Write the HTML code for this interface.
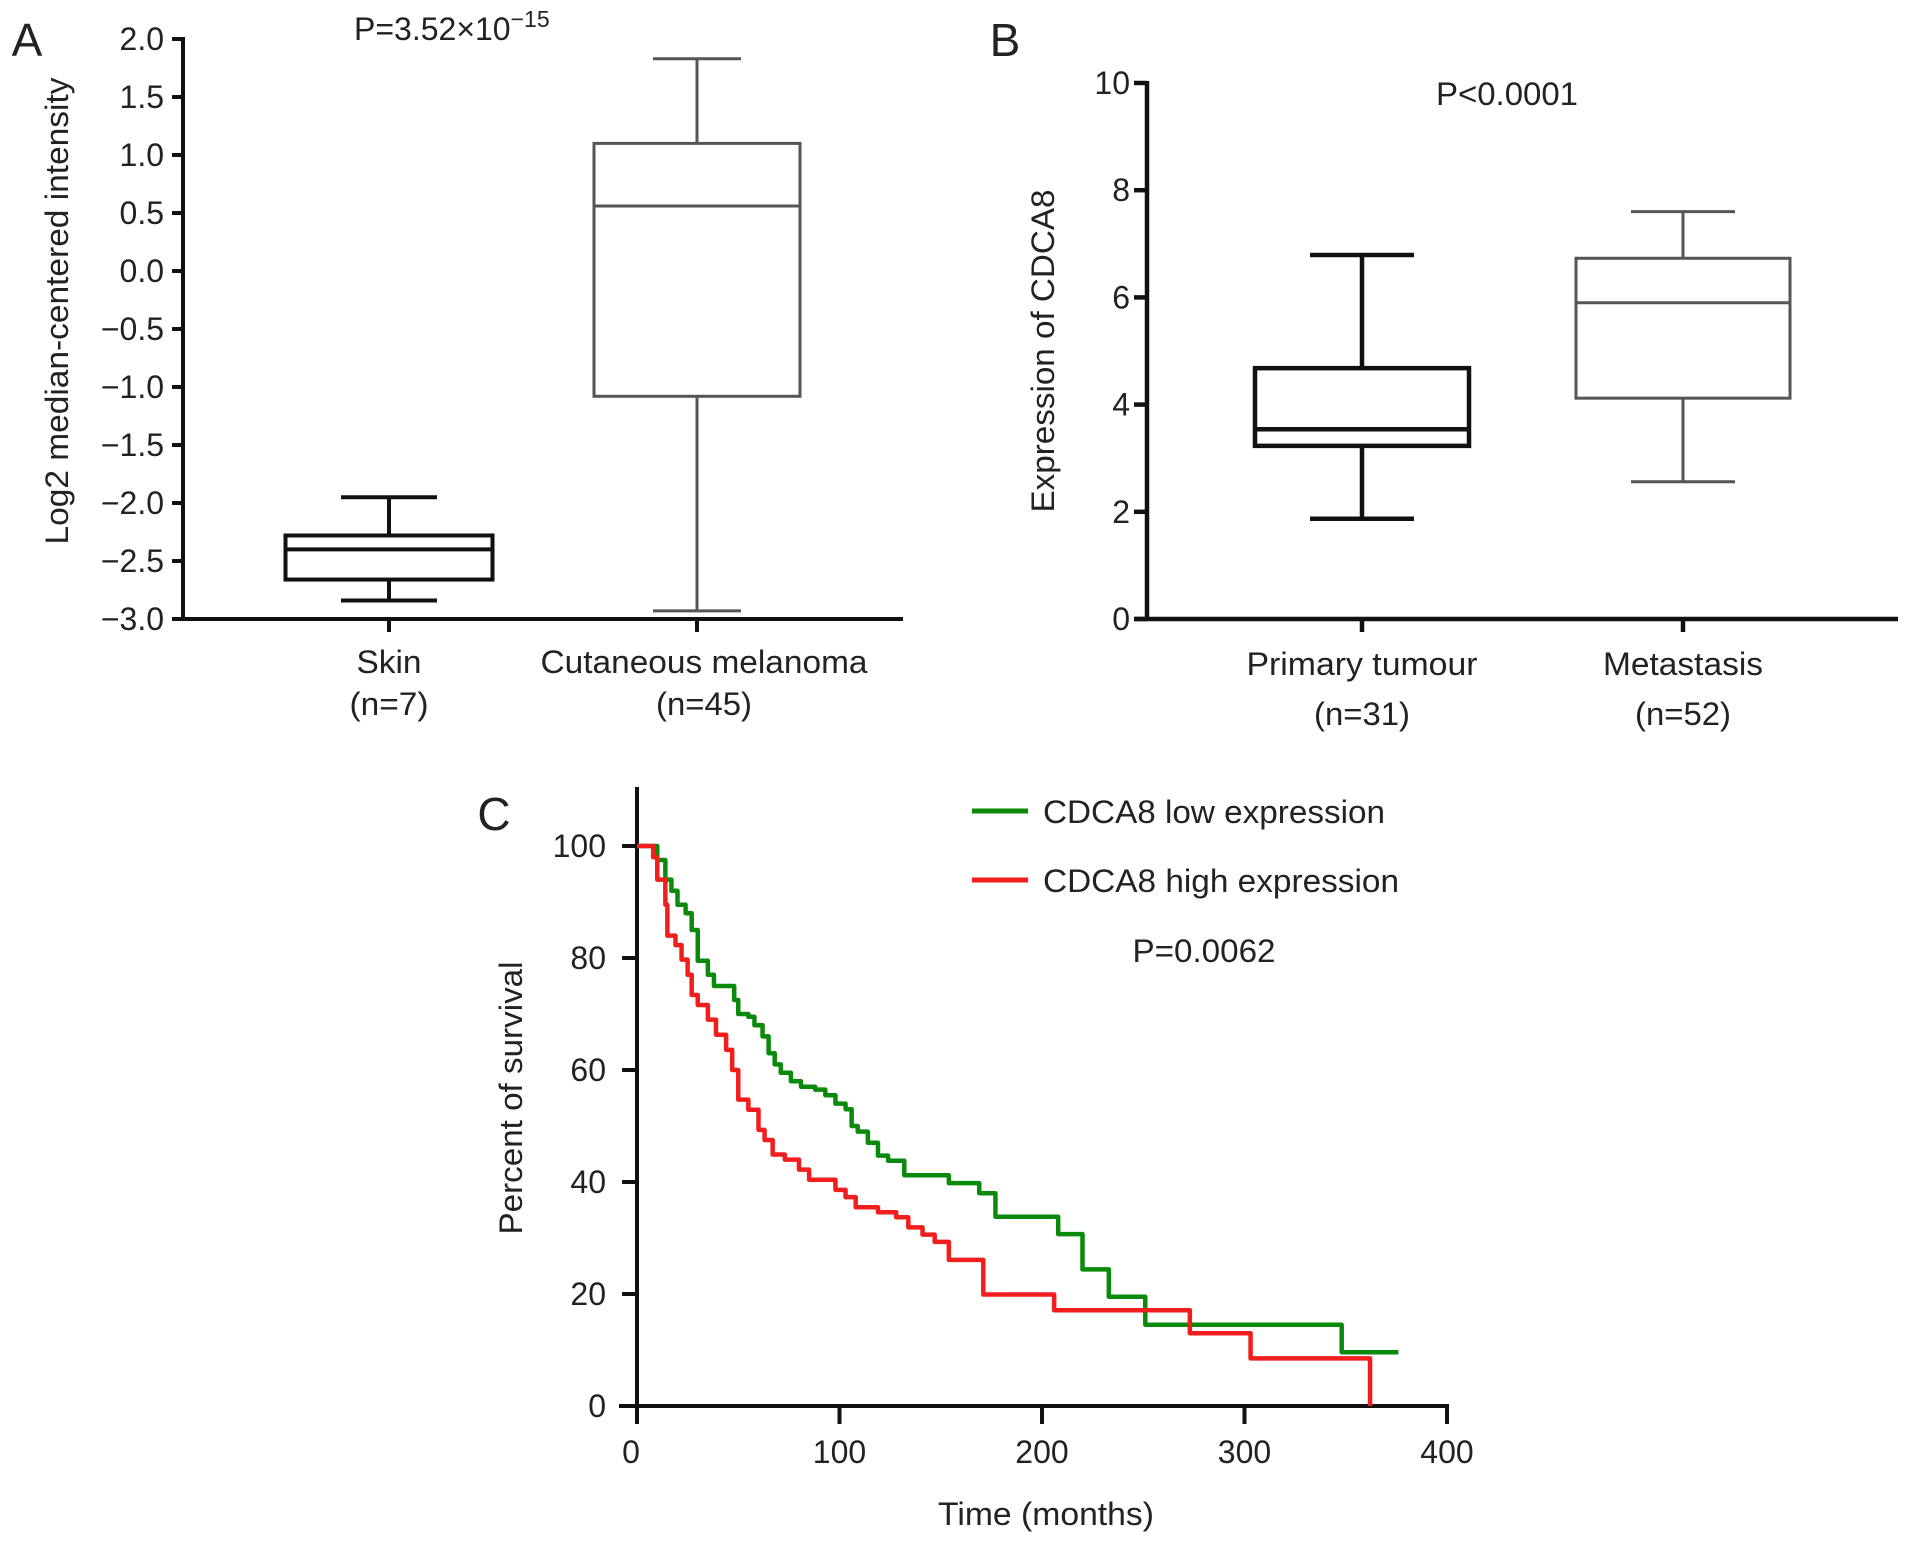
<!DOCTYPE html>
<html><head><meta charset="utf-8">
<style>
html,body{margin:0;padding:0;background:#fff;}
svg{display:block;font-family:"Liberation Sans",Arial,sans-serif;}
text{fill:#222;}
</style></head>
<body>
<svg id="fig" width="1913" height="1544" viewBox="0 0 1913 1544" xmlns="http://www.w3.org/2000/svg">
<g id="panelA"></g>
<g id="panelB"></g>
<g id="panelC"></g>
</svg>
<script>
// ---- Panel A data ----
const aCategories = ["Skin", "Cutaneous melanoma"];
const aCounts = ["(n=7)", "(n=45)"];
const aWhiskerHigh = [-1.95, 1.83];
const aQ3 = [-2.28, 1.10];
const aMedian = [-2.40, 0.56];
const aQ1 = [-2.66, -1.08];
const aWhiskerLow = [-2.84, -2.93];
const aTicks = [2.0, 1.5, 1.0, 0.5, 0.0, -0.5, -1.0, -1.5, -2.0, -2.5, -3.0];

// ---- Panel B data ----
const bCategories = ["Primary tumour", "Metastasis"];
const bCounts = ["(n=31)", "(n=52)"];
const bWhiskerHigh = [6.79, 7.6];
const bQ3 = [4.68, 6.73];
const bMedian = [3.54, 5.9];
const bQ1 = [3.23, 4.12];
const bWhiskerLow = [1.87, 2.56];
const bTicks = [0, 2, 4, 6, 8, 10];

// ---- Panel C data ----
const lowTimes = [0,7,10,14,17,20,24,27,30,35,38,45,48,50,55,58,62,65,68,71,76,81,88,93,98,103,106,109,114,119,124,132,152,154,164,169,175,177,207,208,218,220,232,233,250,251,346,348,376];
const lowSurv  = [100,100,97.5,94,92,89.5,88,85,79.5,77,75,75,72.5,70,69.5,68,66,63,61,59.5,58,57,56.5,55.5,54,53,50,49,47,44.7,43.8,41.2,41.2,39.8,39.8,38,38,33.8,33.8,30.7,30.7,24.4,24.4,19.5,19.5,14.5,14.5,9.6,9.6];
const highTimes = [0,8,10,14,15,19,22,25,27,30,35,39,44,47,50,55,60,63,67,73,80,85,93,98,103,108,119,128,134,141,147,154,169,171,205,206,272,273,302,303,362,362];
const highSurv  = [100,98,94,89.5,84,82.3,79.7,77,73.4,71.6,69,66.3,63.6,60,54.7,52.9,49.3,47.5,44.9,44,42.2,40.4,40.4,38.6,37.3,35.5,34.6,33.7,31.9,30.6,29.3,26.1,26.1,19.9,19.9,17.1,17.1,13,13,8.5,8.5,0];
const cXTicks = [0, 100, 200, 300, 400];
const cYTicks = [0, 20, 40, 60, 80, 100];

const NS = "http://www.w3.org/2000/svg";
function mk(parent, tag, attrs, txt){
  const e = document.createElementNS(NS, tag);
  for (const k in attrs) e.setAttribute(k, attrs[k]);
  if (txt !== undefined) e.textContent = txt;
  parent.appendChild(e);
  return e;
}
const FS = 32;

// ================= Panel A =================
(function(){
  const g = document.getElementById('panelA');
  const x0 = 183, yTop = 39, yBot = 619, vMax = 2, vMin = -3;
  const ay = v => yTop + (vMax - v) / (vMax - vMin) * (yBot - yTop);
  const centers = [389, 697];
  const halfW = [103.5, 103];
  const capHalf = [48, 44];
  const colors = ["#111", "#555"];
  const sw = [4, 3];
  let t = mk(g,'text',{x:27,y:56,'font-size':46,'text-anchor':'middle'},'A');
   
  const p = mk(g,'text',{x:354,y:40,'font-size':FS});
   
  mk(p,'tspan',{},'P=3.52×10');
  mk(p,'tspan',{dy:-13,'font-size':23},'−15');
  const yl = mk(g,'text',{x:0,y:0,'font-size':FS,'text-anchor':'middle',transform:'translate(68,311) rotate(-90)',textLength:467,lengthAdjust:'spacingAndGlyphs'},'Log2 median-centered intensity');
   
  const ax = mk(g,'line',{x1:x0,y1:yTop-2,x2:x0,y2:yBot+2,stroke:'#111','stroke-width':4});
   
  const xa = mk(g,'line',{x1:x0-2,y1:yBot,x2:903,y2:yBot,stroke:'#111','stroke-width':4});
   
  aTicks.forEach(v=>{
    const y = ay(v);
    const tk = mk(g,'line',{x1:172,y1:y,x2:x0,y2:y,stroke:'#111','stroke-width':4});
     
    const lb = mk(g,'text',{x:164,y:y+11,'font-size':FS,'text-anchor':'end'},(v<0?'−':'')+Math.abs(v).toFixed(1));
     
  });
  const lblW = [65, 327], cntW = [79, 96];
  aCategories.forEach((c,i)=>{
    const cx = centers[i];
    const tk = mk(g,'line',{x1:cx,y1:yBot,x2:cx,y2:yBot+13,stroke:'#111','stroke-width':4});
     
    const l1 = mk(g,'text',{x:cx+(i?7:0),y:673,'font-size':FS,'text-anchor':'middle',textLength:lblW[i],lengthAdjust:'spacingAndGlyphs'},c);
     
    const l2 = mk(g,'text',{x:cx+(i?7:0),y:715,'font-size':FS,'text-anchor':'middle',textLength:cntW[i],lengthAdjust:'spacingAndGlyphs'},aCounts[i]);
     
    const bg = mk(g,'g',{stroke:colors[i],'stroke-width':sw[i],fill:'none'});
     
    mk(bg,'line',{x1:cx,y1:ay(aWhiskerHigh[i]),x2:cx,y2:ay(aQ3[i])});
    mk(bg,'line',{x1:cx,y1:ay(aQ1[i]),x2:cx,y2:ay(aWhiskerLow[i])});
    mk(bg,'line',{x1:cx-capHalf[i],y1:ay(aWhiskerHigh[i]),x2:cx+capHalf[i],y2:ay(aWhiskerHigh[i])});
    mk(bg,'line',{x1:cx-capHalf[i],y1:ay(aWhiskerLow[i]),x2:cx+capHalf[i],y2:ay(aWhiskerLow[i])});
    mk(bg,'rect',{x:cx-halfW[i],y:ay(aQ3[i]),width:2*halfW[i],height:ay(aQ1[i])-ay(aQ3[i])});
    mk(bg,'line',{x1:cx-halfW[i],y1:ay(aMedian[i]),x2:cx+halfW[i],y2:ay(aMedian[i])});
  });
})();

// ================= Panel B =================
(function(){
  const g = document.getElementById('panelB');
  const x0 = 1147, yTop = 83, yBot = 619, vMax = 10, vMin = 0;
  const by = v => yBot - (v - vMin) / (vMax - vMin) * (yBot - yTop);
  const centers = [1362, 1683];
  const halfW = [107, 107];
  const capHalf = [52, 52];
  const colors = ["#111", "#555"];
  const sw = [4.5, 3];
  let t = mk(g,'text',{x:1005,y:56,'font-size':46,'text-anchor':'middle'},'B');
   
  const p = mk(g,'text',{x:1507,y:105,'font-size':FS,'text-anchor':'middle',textLength:142,lengthAdjust:'spacingAndGlyphs'},'P<0.0001');
   
  const yl = mk(g,'text',{x:0,y:0,'font-size':FS,'text-anchor':'middle',transform:'translate(1054,351) rotate(-90)',textLength:323,lengthAdjust:'spacingAndGlyphs'},'Expression of CDCA8');
   
  const ax = mk(g,'line',{x1:x0,y1:yTop-2,x2:x0,y2:yBot+2,stroke:'#111','stroke-width':4.5});
   
  const xa = mk(g,'line',{x1:x0-12,y1:yBot,x2:1898,y2:yBot,stroke:'#111','stroke-width':4.5});
   
  bTicks.forEach(v=>{
    const y = by(v);
    const tk = mk(g,'line',{x1:1134,y1:y,x2:x0,y2:y,stroke:'#111','stroke-width':4.5});
     
    const lb = mk(g,'text',{x:1130,y:y+11,'font-size':FS,'text-anchor':'end'},String(v));
     
  });
  const lblW = [231, 160];
  bCategories.forEach((c,i)=>{
    const cx = centers[i];
    const tk = mk(g,'line',{x1:cx,y1:yBot,x2:cx,y2:yBot+13,stroke:'#111','stroke-width':4.5});
     
    const l1 = mk(g,'text',{x:cx,y:675,'font-size':FS,'text-anchor':'middle',textLength:lblW[i],lengthAdjust:'spacingAndGlyphs'},c);
     
    const l2 = mk(g,'text',{x:cx,y:725,'font-size':FS,'text-anchor':'middle',textLength:96,lengthAdjust:'spacingAndGlyphs'},bCounts[i]);
     
    const bg = mk(g,'g',{stroke:colors[i],'stroke-width':sw[i],fill:'none'});
     
    mk(bg,'line',{x1:cx,y1:by(bWhiskerHigh[i]),x2:cx,y2:by(bQ3[i])});
    mk(bg,'line',{x1:cx,y1:by(bQ1[i]),x2:cx,y2:by(bWhiskerLow[i])});
    mk(bg,'line',{x1:cx-capHalf[i],y1:by(bWhiskerHigh[i]),x2:cx+capHalf[i],y2:by(bWhiskerHigh[i])});
    mk(bg,'line',{x1:cx-capHalf[i],y1:by(bWhiskerLow[i]),x2:cx+capHalf[i],y2:by(bWhiskerLow[i])});
    mk(bg,'rect',{x:cx-halfW[i],y:by(bQ3[i]),width:2*halfW[i],height:by(bQ1[i])-by(bQ3[i])});
    mk(bg,'line',{x1:cx-halfW[i],y1:by(bMedian[i]),x2:cx+halfW[i],y2:by(bMedian[i])});
  });
})();

// ================= Panel C =================
(function(){
  const g = document.getElementById('panelC');
  const x0 = 637, x400 = 1447, y0 = 1406, y100 = 846;
  const cx = t => x0 + t / 400 * (x400 - x0);
  const cy = v => y0 - v / 100 * (y0 - y100);
  let t = mk(g,'text',{x:494,y:830,'font-size':46,'text-anchor':'middle'},'C');
   
  const ax = mk(g,'line',{x1:x0,y1:787,x2:x0,y2:y0+18,stroke:'#111','stroke-width':4});
   
  const xa = mk(g,'line',{x1:x0-18,y1:y0,x2:x400+2,y2:y0,stroke:'#111','stroke-width':4});
   
  cYTicks.forEach(v=>{
    const y = cy(v);
    const tk = mk(g,'line',{x1:x0-15,y1:y,x2:x0,y2:y,stroke:'#111','stroke-width':4});
     
    const lb = mk(g,'text',{x:606,y:y+11,'font-size':FS,'text-anchor':'end'},String(v));
     
  });
  cXTicks.forEach(v=>{
    const x = cx(v);
    const tk = mk(g,'line',{x1:x,y1:y0,x2:x,y2:y0+18,stroke:'#111','stroke-width':4});
     
    const lb = mk(g,'text',{x:x-(v===0?6:0),y:1463,'font-size':FS,'text-anchor':'middle'},String(v));
     
  });
  const yl = mk(g,'text',{x:0,y:0,'font-size':FS,'text-anchor':'middle',transform:'translate(522,1098) rotate(-90)',textLength:273,lengthAdjust:'spacingAndGlyphs'},'Percent of survival');
   
  const xl = mk(g,'text',{x:1046,y:1525,'font-size':FS,'text-anchor':'middle',textLength:216,lengthAdjust:'spacingAndGlyphs'},'Time (months)');
   

  function stepPath(times, surv){
    let d = 'M' + cx(times[0]) + ',' + cy(surv[0]);
    for (let i=1;i<times.length;i++){
      d += ' L' + cx(times[i]) + ',' + cy(surv[i-1]) + ' L' + cx(times[i]) + ',' + cy(surv[i]);
    }
    return d;
  }
  const lo = mk(g,'path',{d:stepPath(lowTimes,lowSurv),fill:'none',stroke:'#0a8a0a','stroke-width':4.5,'stroke-linejoin':'round'});
   
  const hi = mk(g,'path',{d:stepPath(highTimes,highSurv),fill:'none',stroke:'#f21d1d','stroke-width':4.5,'stroke-linejoin':'round'});
   

  const lg1 = mk(g,'g',{});
   
  mk(lg1,'line',{x1:972,y1:811,x2:1028,y2:811,stroke:'#0a8a0a','stroke-width':5});
  mk(lg1,'text',{x:1043,y:823,'font-size':FS,textLength:342,lengthAdjust:'spacingAndGlyphs'},'CDCA8 low expression');
  const lg2 = mk(g,'g',{});
   
  mk(lg2,'line',{x1:972,y1:880,x2:1028,y2:880,stroke:'#f21d1d','stroke-width':5});
  mk(lg2,'text',{x:1043,y:892,'font-size':FS,textLength:356,lengthAdjust:'spacingAndGlyphs'},'CDCA8 high expression');
  const p = mk(g,'text',{x:1204,y:962,'font-size':FS,'text-anchor':'middle',textLength:143,lengthAdjust:'spacingAndGlyphs'},'P=0.0062');
   
})();
</script>
</body></html>
